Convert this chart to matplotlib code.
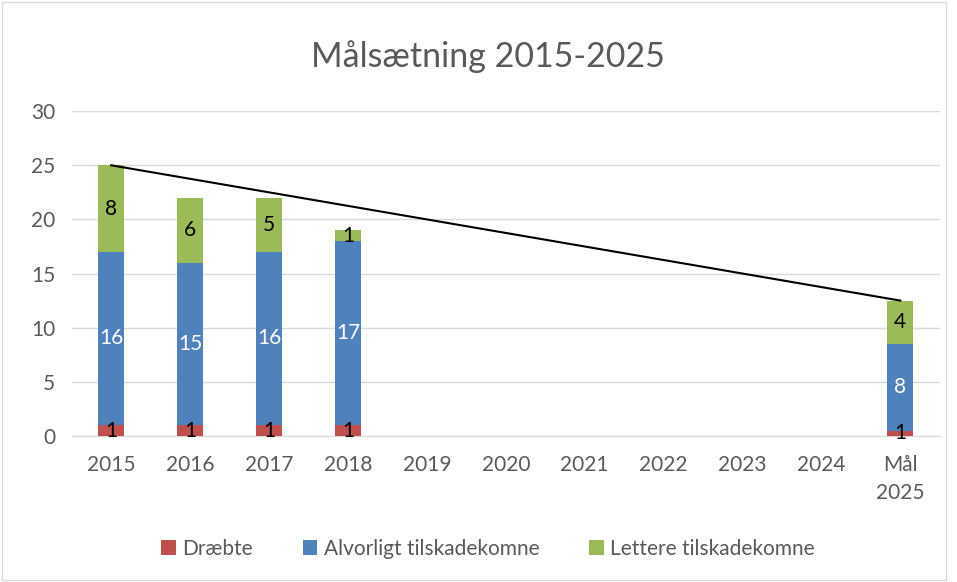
import numpy as np
import matplotlib.pyplot as plt
from matplotlib.patches import Rectangle

plt.rcParams['font.family'] = ['Lato', 'DejaVu Sans']

categories = ["2015", "2016", "2017", "2018", "2019", "2020", "2021", "2022", "2023", "2024", "Mål\n2025"]
draebte = [1, 1, 1, 1, 0, 0, 0, 0, 0, 0, 0.5]
alvorligt = [16, 15, 16, 17, 0, 0, 0, 0, 0, 0, 8]
lettere = [8, 6, 5, 1, 0, 0, 0, 0, 0, 0, 4]
maal_linje_x = [0, 10]
maal_linje_y = [25, 12.5]

red = "#c0504d"
blue = "#4f81bd"
green = "#9bbb59"

fig = plt.figure(figsize=(9.57, 5.82), dpi=100)
ax = fig.add_axes([0.075, 0.251, 0.907, 0.558])

x = np.arange(len(categories))
w = 0.33
d = np.array(draebte)
a = np.array(alvorligt)
l = np.array(lettere)
ax.bar(x, d, w, color=red, label="Dræbte", zorder=3)
ax.bar(x, a, w, bottom=d, color=blue, label="Alvorligt tilskadekomne", zorder=3)
ax.bar(x, l, w, bottom=d + a, color=green, label="Lettere tilskadekomne", zorder=3)

ax.plot(maal_linje_x, maal_linje_y, color="black", lw=1.5, zorder=4)

for i in range(len(categories)):
    if d[i] > 0:
        ax.text(x[i], d[i] / 2, "1" if d[i] < 1 else f"{d[i]:.0f}", ha="center", va="center",
                fontsize=15, color="black", zorder=5)
    if a[i] > 0:
        ax.text(x[i], d[i] + a[i] / 2, f"{a[i]:.0f}", ha="center", va="center",
                fontsize=15, color="white", zorder=5)
    if l[i] > 0:
        ax.text(x[i], d[i] + a[i] + l[i] / 2, f"{l[i]:.0f}", ha="center", va="center",
                fontsize=15, color="black", zorder=5)

ax.set_ylim(0, 30)
ax.set_xlim(-0.5, len(categories) - 0.5)
ax.set_yticks(range(0, 31, 5))
ax.set_xticks(x)
ax.set_xticklabels(categories, linespacing=1.5)
ax.tick_params(axis="both", length=0, labelsize=15, colors="#595959")
ax.tick_params(axis="x", pad=14)
ax.tick_params(axis="y", pad=12)
ax.grid(axis="y", color="#d9d9d9", lw=1, zorder=0)
for s in ["top", "right", "left"]:
    ax.spines[s].set_visible(False)
ax.spines["bottom"].set_color("#d9d9d9")

fig.text(0.51, 0.902, "Målsætning 2015-2025", ha="center", va="center", fontsize=24.5, color="#595959")

fig.legend(loc="center", bbox_to_anchor=(0.51, 0.057), ncol=3, frameon=False,
           fontsize=15, handlelength=0.7, handleheight=0.7, columnspacing=2.4,
           handletextpad=0.3, labelcolor="#595959")

fig.patches.append(Rectangle((0.002, 0.003), 0.987, 0.994, transform=fig.transFigure,
                             fill=False, edgecolor="#d9d9d9", lw=1))

fig.savefig("out.png", dpi=100)
